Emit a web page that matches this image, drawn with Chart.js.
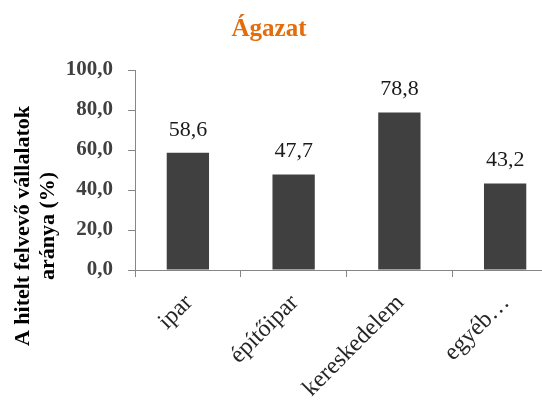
<!DOCTYPE html>
<html>
<head>
<meta charset="utf-8">
<script src="https://cdn.jsdelivr.net/npm/chart.js@4/dist/chart.umd.min.js"></script>
<style>
 html,body{margin:0;padding:0;background:#fff;overflow:hidden;}
 #wrap{position:relative;width:558px;height:410px;}
</style>
</head>
<body>
<div id="wrap"><canvas id="canvas_agazat"></canvas></div>
<script>
/* data */
var chart_title="Ágazat";
var axis_title=["A hitelt felvevő vállalatok","aránya (%)"];
var categories=["ipar","építőipar","kereskedelem","egyéb…"];
var values=[58.6,47.7,78.8,43.2];
var y_ticks=[0,20,40,60,80,100];

/* helpers */
var serif="'Liberation Serif','Times New Roman',serif";
function fmt(v){return v.toFixed(1).replace('.',',');}

/* titles and value labels */
var extras={
 id:'extras',
 afterDatasetsDraw:function(chart){
  var ctx=chart.ctx;
  ctx.save();
  // value labels
  ctx.fillStyle='#1a1a1a';
  ctx.font='22px '+serif;
  ctx.textAlign='center';
  ctx.textBaseline='middle';
  chart.getDatasetMeta(0).data.forEach(function(bar,i){
   ctx.fillText(fmt(values[i]),bar.x,bar.y-23);
  });
  // chart title
  ctx.fillStyle='#E46C0A';
  ctx.font='bold 25px '+serif;
  ctx.fillText(chart_title,269,30);
  // axis title
  ctx.fillStyle='#000';
  ctx.font='bold 22px '+serif;
  ctx.translate(0,226);
  ctx.rotate(-Math.PI/2);
  ctx.fillText(axis_title[0],0,23);
  ctx.fillText(axis_title[1],0,48);
  ctx.restore();
 }
};

var ctx=document.getElementById("canvas_agazat").getContext('2d');
var myChart=new Chart(ctx,{
 type:'bar',
 data:{
  labels:categories,
  datasets:[{
   data:values,
   backgroundColor:'#404040',
   borderWidth:0,
   barPercentage:0.4,
   categoryPercentage:1
  }]
 },
 options:{
  responsive:true,
  maintainAspectRatio:false,
  animation:false,
  layout:{padding:{left:60,top:70,right:0,bottom:0}},
  plugins:{legend:{display:false},title:{display:false},tooltip:{enabled:false}},
  scales:{
   x:{
    afterFit:function(s){s.height=140;},
    grid:{drawOnChartArea:false,tickLength:7,color:'#868686',offset:true},
    border:{color:'#868686',width:1},
    ticks:{
     color:'#262626',
     font:{family:serif,size:24},
     minRotation:45,
     maxRotation:45,
     padding:12,
     labelOffset:1
    }
   },
   y:{
    min:0,
    max:100,
    afterFit:function(s){s.width=75;},
    afterBuildTicks:function(s){s.ticks=y_ticks.map(function(v){return {value:v};});},
    grid:{drawOnChartArea:false,tickLength:7,color:'#868686'},
    border:{color:'#868686',width:1},
    ticks:{
     color:'#404040',
     font:{family:serif,size:21,weight:'bold'},
     padding:15,
     callback:function(v){return fmt(v);}
    }
   }
  }
 },
 plugins:[extras]
});
</script>
</body>
</html>
